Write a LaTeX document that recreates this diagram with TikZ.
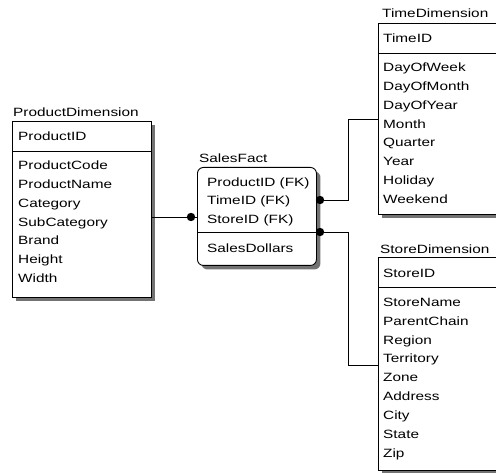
\documentclass[tikz,border=0pt]{standalone}
\usepackage{fontspec}
\setmainfont{Liberation Sans}[FakeStretch=1.28]
\usetikzlibrary{shadows}
\begin{document}
\begin{tikzpicture}[x=1pt,y=-1pt,
  lbl/.style={anchor=base west, inner sep=0pt, font=\fontsize{12}{14}\selectfont},
  tbl/.style={draw, line width=0.9pt, fill=white, anchor=north west, inner sep=0pt,
    drop shadow={shadow xshift=4pt, shadow yshift=-4pt, fill=black!55, opacity=1}},
  sep/.style={line width=0.9pt},
  link/.style={line width=0.9pt},
  knob/.style={fill=black}]
\useasboundingbox (0,0) rectangle (496,473);

% ProductDimension table
\node[lbl] (tprod) at (13,117) {ProductDimension};
\node[tbl, minimum width=139pt, minimum height=176pt] (prod) at (12,121) {};
\draw[sep] (12,151) -- (151,151);
\node[lbl] (prodkey) at (18,140.8) {ProductID};
\foreach \t [count=\i from 0] in {ProductCode,ProductName,Category,SubCategory,Brand,Height,Width}
  \node[lbl] (proda\i) at (18,{169.8+18.8*\i}) {\t};

% SalesFact table
\node[lbl] (tsales) at (199,163) {SalesFact};
\node[tbl, rounded corners=6pt, minimum width=119pt, minimum height=98pt] (sales) at (197,167) {};
\draw[sep] (197,232) -- (316,232);
\foreach \t [count=\i from 0] in {ProductID (FK),TimeID (FK),StoreID (FK)}
  \node[lbl] (salesk\i) at (207,{186.3+18.5*\i}) {\t};
\node[lbl] (salesa) at (207,252.3) {SalesDollars};

% TimeDimension table
\node[lbl] (ttime) at (382,18) {TimeDimension};
\node[tbl, minimum width=125pt, minimum height=191pt] (time) at (378,23) {};
\draw[sep] (378,53) -- (503,53);
\node[lbl] (timekey) at (383,42.5) {TimeID};
\foreach \t [count=\i from 0] in {DayOfWeek,DayOfMonth,DayOfYear,Month,Quarter,Year,Holiday,Weekend}
  \node[lbl] (timea\i) at (383,{71.8+18.8*\i}) {\t};

% StoreDimension table
\node[lbl] (tstore) at (380,254) {StoreDimension};
\node[tbl, minimum width=125pt, minimum height=212.5pt] (store) at (378,257.5) {};
\draw[sep] (378,287.5) -- (503,287.5);
\node[lbl] (storekey) at (383,277.3) {StoreID};
\foreach \t [count=\i from 0] in {StoreName,ParentChain,Region,Territory,Zone,Address,City,State,Zip}
  \node[lbl] (storea\i) at (383,{306.3+18.9*\i}) {\t};

% connector end points and bends
\coordinate (pk) at (191,217);
\coordinate (tk) at (320,200);
\coordinate (sk) at (320,232);
\coordinate (tb1) at (348,200);
\coordinate (tb2) at (348,119);
\coordinate (sb1) at (348,232);
\coordinate (sb2) at (348,365);

\draw[link] (prod.east |- pk) -- (sales.west |- pk);
\draw[link] (tk) -- (tb1) -- (tb2) -- (time.west |- tb2);
\draw[link] (sk) -- (sb1) -- (sb2) -- (store.west |- sb2);
\fill[knob] (pk) circle (4.2);
\fill[knob] (tk) circle (4.2);
\fill[knob] (sk) circle (4.2);
\end{tikzpicture}
\end{document}
